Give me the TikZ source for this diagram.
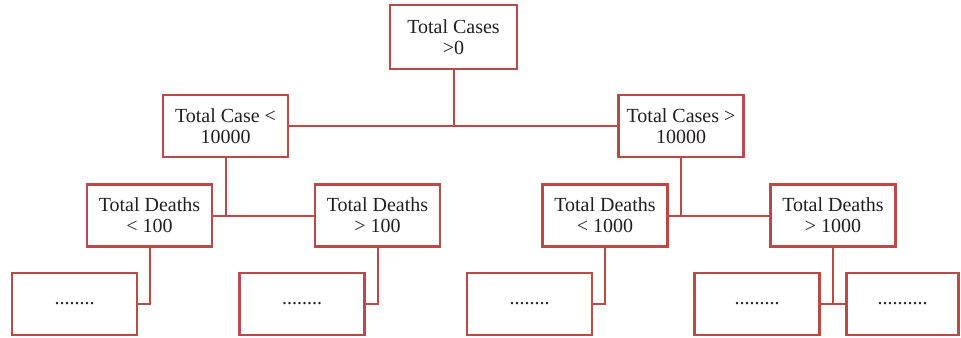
\documentclass[tikz,border=0pt]{standalone}
\usepackage{fontspec}
\setmainfont{Liberation Serif}
\definecolor{boxred}{RGB}{185,74,72}
\definecolor{txtgray}{RGB}{35,31,32}
\tikzset{
  treebox/.style={draw=boxred,line width=1.2pt,fill=white,text=txtgray,
    minimum width=62.5pt,minimum height=31pt,inner sep=1pt,
    align=center,font=\fontsize{10}{10.5}\selectfont},
  treeline/.style={draw=boxred,line width=1pt}
}
\begin{document}
\begin{tikzpicture}[x=0.5pt,y=-0.5pt]
    \useasboundingbox (0,0) rectangle (961,337);

    \node[treebox,minimum width=63.5pt,minimum height=32pt] (root) at (453.5,37) {Total Cases\\>0};

    \node[treebox] (less) at (225.5,126) {Total Case <\\10000};
    \node[treebox] (more) at (681,126) {Total Cases >\\10000};

    \node[treebox] (dlt100) at (149.5,215.5) {Total Deaths\\< 100};
    \node[treebox] (dgt100) at (377.5,215.5) {Total Deaths\\> 100};
    \node[treebox] (dlt1000) at (605,215.5) {Total Deaths\\< 1000};
    \node[treebox] (dgt1000) at (833,215.5) {Total Deaths\\> 1000};

    \node[treebox] (leafa) at (74.5,304) {........};
    \node[treebox] (leafb) at (302,304) {........};
    \node[treebox] (leafc) at (529.5,304) {........};
    \node[treebox] (leafd) at (757,304) {.........};
    \node[treebox,minimum width=56pt] (leafe) at (902.5,304) {..........};

    \draw[treeline] (root.south) -- (root.south |- less.east);
    \draw[treeline] (less.east) -- (more.west);

    \draw[treeline] (less.south) -- (less.south |- dlt100.east);
    \draw[treeline] (dlt100.east) -- (dgt100.west);
    \draw[treeline] (more.south) -- (more.south |- dlt1000.east);
    \draw[treeline] (dlt1000.east) -- (dgt1000.west);

    \draw[treeline] (dlt100.south) |- (leafa.east);
    \draw[treeline] (dgt100.south) |- (leafb.east);
    \draw[treeline] (dlt1000.south) |- (leafc.east);
    \draw[treeline] (dgt1000.south) -- (dgt1000.south |- leafd.east);
    \draw[treeline] (leafd.east) -- (leafe.west);
  \end{tikzpicture}
\end{document}
